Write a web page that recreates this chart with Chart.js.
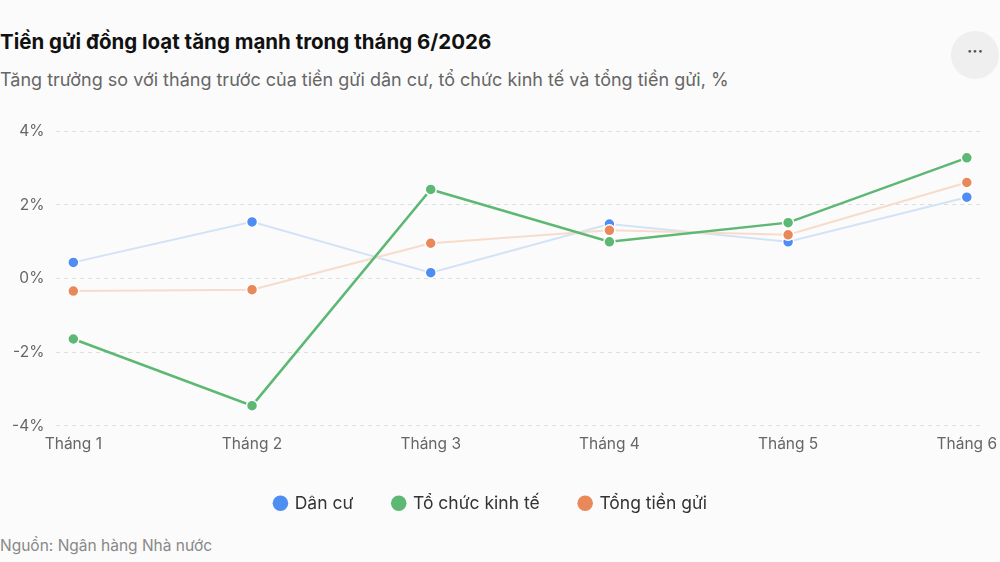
<!DOCTYPE html>
<html>
<head>
<meta charset="utf-8">
<script src="https://cdn.jsdelivr.net/npm/chart.js@4"></script>
<style>
  body { margin: 0; background: #fbfbfb; font-family: Inter, "Noto Sans", sans-serif; width: 1000px; height: 562px; overflow: hidden; position: relative; }
  #title { position: absolute; left: 0; top: 29px; font-size: 20.5px; font-weight: 700; color: #111; }
  #subtitle { position: absolute; left: 0; top: 69px; font-size: 18px; color: #666; }
  #more { position: absolute; left: 951px; top: 31px; width: 48px; height: 48px; border-radius: 50%; background: #efefef; color: #555; font-size: 16px; text-align: center; line-height: 40px; font-weight: 700; }
  #source { position: absolute; left: 0; top: 536px; font-size: 15.5px; color: #888; }
  #wrap { position: absolute; left: 0; top: 110px; width: 1000px; height: 412px; }
</style>
</head>
<body>
<div id="title">Tiền gửi đồng loạt tăng mạnh trong tháng 6/2026</div>
<div id="subtitle">Tăng trưởng so với tháng trước của tiền gửi dân cư, tổ chức kinh tế và tổng tiền gửi, %</div>
<div id="more">···</div>
<div id="wrap"><canvas id="chart" width="1000" height="412"></canvas></div>
<div id="source">Nguồn: Ngân hàng Nhà nước</div>
<script>
// Data
const months = ['Tháng 1', 'Tháng 2', 'Tháng 3', 'Tháng 4', 'Tháng 5', 'Tháng 6'];
const dan_cu = [0.44, 1.54, 0.16, 1.48, 1.0, 2.21];
const to_chuc_kinh_te = [-1.64, -3.45, 2.42, 1.0, 1.52, 3.28];
const tong_tien_gui = [-0.34, -0.30, 0.96, 1.31, 1.19, 2.61];
const y_ticks = [-4, -2, 0, 2, 4];

// turn a list of values into {x, y} points on the month index
function toPoints(values) {
    return values.map((v, i) => ({x: i, y: v}));
}

function makeSet(label, values, lineColor, dotColor, width) {
    return {
        label: label,
        data: toPoints(values),
        borderColor: lineColor,
        backgroundColor: dotColor,
        borderWidth: width,
        pointRadius: 5.5,
        pointHoverRadius: 5.5,
        pointBackgroundColor: dotColor,
        pointBorderColor: '#ffffff',
        pointBorderWidth: 1.5,
        tension: 0
    };
}

const chart_data = {
    datasets: [
        makeSet('Dân cư', dan_cu, '#d3e3f6', '#4e8df2', 2),
        makeSet('Tổ chức kinh tế', to_chuc_kinh_te, '#5cb872', '#5cb872', 2.5),
        makeSet('Tổng tiền gửi', tong_tien_gui, '#f8dccb', '#e9895a', 2)
    ]
};

// draw the "Dân cư" and "Tổng tiền gửi" lines under the green one
chart_data.datasets[0].order = 2;
chart_data.datasets[2].order = 1;
chart_data.datasets[1].order = 0;

const font_family = 'Inter, "Noto Sans", sans-serif';

const config = {
    type: 'line',
    data: chart_data,
    options: {
        responsive: false,
        animation: false,
        layout: { padding: { top: 10, right: 18, left: 0, bottom: 0 } },
        plugins: {
            legend: {
                position: 'bottom',
                labels: {
                    usePointStyle: true,
                    pointStyle: 'circle',
                    boxWidth: 11,
                    boxHeight: 11,
                    padding: 40,
                    color: '#333',
                    font: { family: font_family, size: 17.5 },
                    generateLabels: function(chart) {
                        return chart.data.datasets.map((ds, i) => ({
                            text: ds.label,
                            fillStyle: ds.pointBackgroundColor,
                            strokeStyle: ds.pointBackgroundColor,
                            lineWidth: 0,
                            pointStyle: 'circle',
                            datasetIndex: i,
                            fontColor: '#333'
                        }));
                    }
                }
            },
            tooltip: { enabled: false }
        },
        scales: {
            x: {
                type: 'linear',
                min: -0.095,
                max: 5.085,
                grid: { display: false },
                border: { display: false },
                ticks: {
                    stepSize: 1,
                    includeBounds: false,
                    autoSkip: false,
                    maxRotation: 0,
                    padding: 1,
                    color: '#666',
                    font: { family: font_family, size: 15.5 },
                    callback: (v) => months[v]
                },
                afterBuildTicks: (scale) => {
                    scale.ticks = months.map((m, i) => ({value: i}));
                }
            },
            y: {
                min: y_ticks[0],
                max: y_ticks[y_ticks.length - 1],
                afterBuildTicks: (scale) => {
                    scale.ticks = y_ticks.map(v => ({value: v}));
                },
                grid: { color: '#dedede', lineWidth: 1, drawTicks: false },
                border: { display: false, dash: [4, 4] },
                ticks: {
                    padding: 12,
                    color: '#666',
                    font: { family: font_family, size: 15.5 },
                    callback: (v) => v + '%'
                }
            }
        }
    }
};

const lineChart = new Chart(
    document.getElementById('chart'),
    config
);
</script>
</body>
</html>
